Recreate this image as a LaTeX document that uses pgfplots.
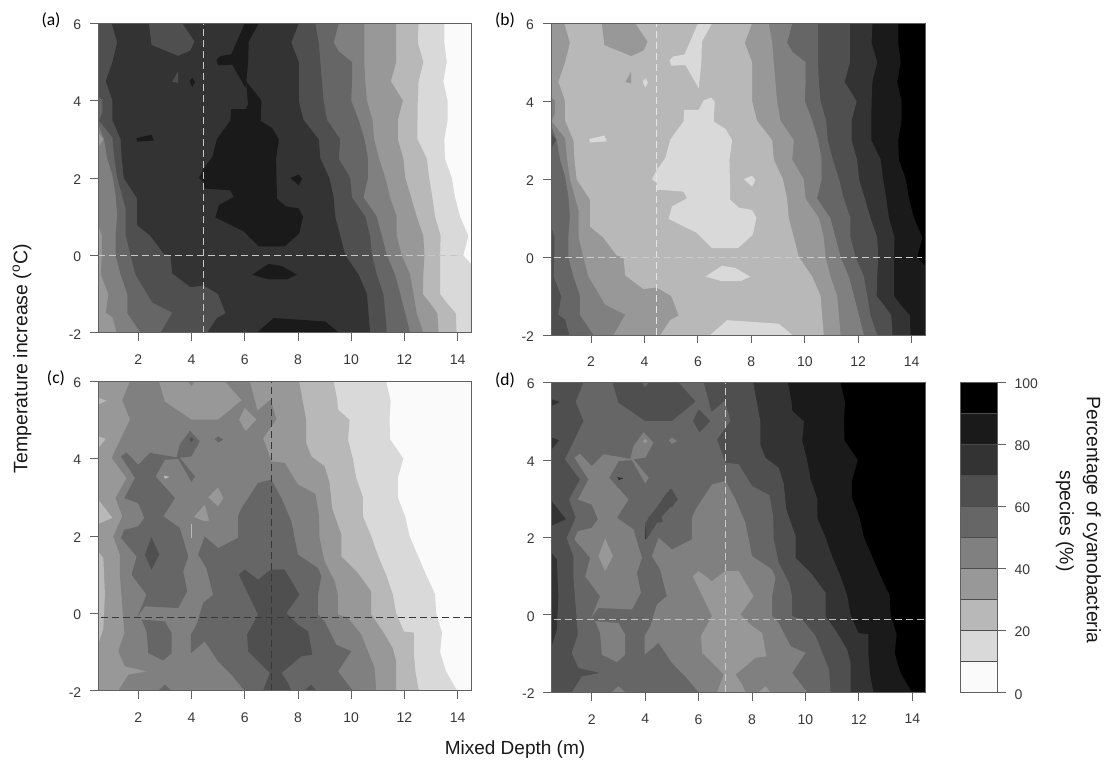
\documentclass[border=0pt]{standalone}
\usepackage{fontspec}
\setmainfont{Liberation Sans}
\newfontfamily\calfont{Carlito}
\usepackage{pgfplots}
\pgfplotsset{compat=1.18}
\definecolor{g0}{HTML}{FAFAFA}
\definecolor{g1}{HTML}{D9D9D9}
\definecolor{g2}{HTML}{B8B8B8}
\definecolor{g3}{HTML}{989898}
\definecolor{g4}{HTML}{808080}
\definecolor{g5}{HTML}{666666}
\definecolor{g6}{HTML}{4F4F4F}
\definecolor{g7}{HTML}{333333}
\definecolor{g8}{HTML}{1A1A1A}
\definecolor{g9}{HTML}{000000}
\pgfplotsset{
 fwd/.style={b0/.style={fill=g0,draw=none},b1/.style={fill=g1,draw=none},b2/.style={fill=g2,draw=none},b3/.style={fill=g3,draw=none},b4/.style={fill=g4,draw=none},b5/.style={fill=g5,draw=none},b6/.style={fill=g6,draw=none},b7/.style={fill=g7,draw=none},b8/.style={fill=g8,draw=none},b9/.style={fill=g9,draw=none}},
 rev/.style={b0/.style={fill=g9,draw=none},b1/.style={fill=g8,draw=none},b2/.style={fill=g7,draw=none},b3/.style={fill=g6,draw=none},b4/.style={fill=g5,draw=none},b5/.style={fill=g4,draw=none},b6/.style={fill=g3,draw=none},b7/.style={fill=g2,draw=none},b8/.style={fill=g1,draw=none},b9/.style={fill=g0,draw=none}},
 panel/.style={scale only axis,anchor=south west,axis on top,
  xmin=0.5,xmax=14.5,ymin=-2,ymax=6,
  xtick={2,4,...,14},ytick={-2,0,2,4,6},
  tick align=outside,tick pos=left,
  major tick length=8.5pt,
  axis line style={color=black!62,line width=0.9pt},
  every tick/.style={color=black!62,line width=0.9pt},
  /pgf/number format/assume math mode=true,
  ticklabel style={font=\fontsize{14}{15}\selectfont,text=black!78},
  xticklabel style={yshift=-10pt},
  yticklabel style={xshift=-5pt,yshift=-1.5pt}},
 dashline/.style={dash pattern=on 7pt off 4pt,line width=1.1pt},
}
\newcommand\panelAB{%
\addplot[b0] coordinates {(0.5,6)(14.6,6)(14.6,-2)(0.5,-2)} --cycle;
\addplot[b1] coordinates {(0.5,6)(13.5,6)(13.5,5.5)(13.59,5)(13.46,4.5)(13.62,4)(13.62,3.5)(13.5,3)(13.52,2.5)(13.78,2)(13.9,1.5)(14.09,1)(14.4,0.5)(14.21,0)(14.6,-0.3)(14.6,-2)(0.5,-2)} --cycle;
\addplot[b2] coordinates {(0.5,6)(12.53,6)(12.5,5.5)(12.71,5)(12.53,4.5)(12.5,4)(12.49,3.5)(12.49,3)(12.84,2.5)(12.93,2)(13.05,1.5)(13.15,1)(13.36,0.5)(13.34,0)(13.34,-0.5)(13.34,-1)(13.59,-1.23)(13.93,-1.5)(13.96,-2)(0.5,-2)} --cycle;
\addplot[b3] coordinates {(0.5,6)(11.69,6)(11.69,5.5)(11.69,5)(11.49,4.5)(11.94,4)(11.75,3.5)(11.75,3)(11.96,2.5)(12.03,2)(12.25,1.5)(12.46,1)(12.71,0.5)(12.75,0)(12.71,-0.5)(12.69,-1)(12.96,-1.23)(13.24,-1.5)(13.28,-2)(0.5,-2)} --cycle;
\addplot[b4] coordinates {(0.5,6)(10.49,6)(10.49,5.5)(10.49,5)(10.53,4.5)(10.59,4)(10.8,3.5)(10.86,3)(11.05,2.5)(11.28,2)(11.46,1.5)(11.71,1)(11.71,0.5)(11.9,0)(12.21,-0.5)(12.34,-1)(12.46,-1.5)(12.71,-2)(1.19,-2)(1.03,-1.6)(0.78,-1.48)(0.88,-1)(0.6,-0.5)(0.63,0)(0.63,0.53)(0.5,0.79)} --cycle;
\addplot[b5] coordinates {(0.5,6)(9.53,6)(9.34,5.5)(9.53,5.27)(10.03,5)(10.03,4.5)(10,4)(10.28,3.5)(10.5,3)(10.63,2.5)(10.63,2)(10.46,1.5)(10.96,1)(11.15,0.5)(11.34,0)(11.65,-0.5)(11.84,-1)(12.03,-1.5)(12.21,-2)(2.09,-2)(1.59,-1.49)(1.59,-1)(1.34,-0.5)(1.15,0)(1.15,0.53)(1.21,1.04)(1.15,1.56)(1.03,2.07)(0.84,2.5)(0.71,3.01)(0.5,3.39)} --cycle;
\addplot[b6] coordinates {(0.5,6)(8.65,6)(8.78,5.5)(8.84,5)(8.9,4.5)(8.96,4)(9.09,3.5)(9.59,3)(9.53,2.5)(9.96,2)(10.03,1.5)(10.53,1)(10.71,0.5)(10.78,0)(10.96,-0.5)(11.21,-1)(11.28,-1.5)(11.34,-2)(2.84,-2)(3.28,-1.48)(2.53,-1.22)(1.9,-0.5)(1.71,0)(1.53,0.52)(1.53,1.21)(1.21,2)(1.09,2.58)(1.03,3.05)(0.53,3.48)(0.65,3.69)(0.65,4.03)(0.5,4.1)} --cycle;
\addplot[b7] coordinates {(1,6)(8.03,6)(7.75,5.5)(8.03,5)(8.03,4.5)(8.03,4)(8.21,3.5)(8.78,3)(8.84,2.5)(9.18,2)(9.34,1.5)(9.4,1)(9.59,0.5)(9.78,0)(10.28,-0.5)(10.59,-1)(10.65,-1.5)(10.71,-2)(4.59,-2)(4.96,-1.62)(5.28,-1.5)(5,-1)(4.46,-0.78)(3.96,-0.82)(3.28,-0.47)(3.21,0)(2.96,0.04)(2.46,0.5)(1.96,0.78)(1.96,1.47)(1.46,2)(1.38,2.5)(1.34,3)(1.03,3.5)(1.03,4)(0.78,4.5)(1.03,5)(1.21,5.5)} --cycle;
\addplot[b6] coordinates {(2.4,6)(2.5,5.44)(3.5,5.16)(3.96,5.3)(4.11,5.53)(3.65,6)} --cycle;
\addplot[b6] coordinates {(3.28,4.49)(3.5,4.46)(3.5,4.76)} --cycle;
\addplot[b3] coordinates {(0.5,3.17)(0.69,3.01)(0.5,2.79)} --cycle;
\addplot[b8] coordinates {(6,6)(6.53,6)(6.15,5.53)(6.13,5.02)(6.09,4.72)(6.03,4.33)(5.53,4.93)(5,4.91)(4.94,5.06)(5.09,5.15)(5.5,5.2)} --cycle;
\addplot[b8] coordinates {(4.28,2)(4.46,2.24)(4.78,2.54)(4.96,3.01)(5.46,3.48)(5.49,3.78)(6.03,3.78)(6.21,4.02)(6.49,4.09)(6.63,3.99)(6.59,3.48)(7.03,3.29)(7.28,3)(7.18,2.5)(7.21,1.47)(7.53,1.27)(8.03,1.21)(8.19,1)(8.05,0.57)(7.5,0.23)(6.53,0.23)(5.96,0.62)(4.9,0.98)(5.03,1.3)(5.59,1.51)(5.46,1.68)(4.46,1.73)(4.46,1.9)} --cycle;
\addplot[b8] coordinates {(7.71,2)(8.03,2.09)(8.15,1.98)(8.03,1.81)} --cycle;
\addplot[b8] coordinates {(1.93,3.03)(2.5,3.12)(2.59,2.97)(1.96,2.94)} --cycle;
\addplot[b8] coordinates {(4.03,4.59)(4.13,4.48)(4.03,4.35)(3.93,4.5)} --cycle;
\addplot[b8] coordinates {(6.28,-0.5)(6.9,-0.22)(7.4,-0.28)(7.96,-0.5)(7.59,-0.62)(6.9,-0.62)} --cycle;
\addplot[b8] coordinates {(6.46,-2)(7.09,-1.62)(9.03,-1.71)(9.53,-2)} --cycle;
}
\newcommand\panelCD{%
\addplot[b0] coordinates {(0.5,6)(14.6,6)(14.6,-2)(0.5,-2)} --cycle;
\addplot[b1] coordinates {(0.5,6)(11.31,6)(11.48,5.5)(11.44,5)(11.46,4.5)(11.96,4)(11.75,3.5)(11.75,3)(12.03,2.5)(12.19,2)(12.5,1.5)(12.81,1)(13.15,0.5)(13.19,0)(13.41,-0.5)(13.34,-1)(13.56,-1.5)(13.98,-2)(0.5,-2)} --cycle;
\addplot[b2] coordinates {(0.5,6)(9.34,6)(9.48,5.5)(9.5,5.27)(9.94,5)(9.88,4.5)(10.06,4)(10.19,3.5)(10.44,3)(10.44,2.5)(10.75,2)(11,1.5)(11.31,1)(11.56,0.5)(11.69,0)(11.98,-0.47)(12.35,-0.5)(12.35,-1)(12.41,-1.5)(12.54,-2)(0.5,-2)} --cycle;
\addplot[b3] coordinates {(0.5,6)(8.04,6)(8.31,5)(8.31,4.4)(8.5,4.06)(9,3.8)(9.19,3.37)(9.28,2.72)(9.63,2.03)(9.63,1.47)(10.25,1.04)(10.75,0.57)(10.75,-0.03)(11.19,-0.47)(11.56,-0.9)(11.69,-1.24)(11.69,-2)(0.5,-2)} --cycle;
\addplot[b2] coordinates {(0.5,5.57)(0.81,5.5)(0.5,5.4)} --cycle;
\addplot[b2] coordinates {(0.5,4.58)(0.78,4.51)(0.5,4.28)} --cycle;
\addplot[b2] coordinates {(0.5,2.94)(1.03,2.47)(0.5,2.31)} --cycle;
\addplot[b2] coordinates {(0.5,1.6)(0.69,1.43)(0.75,0.48)(0.69,-0.38)(0.5,-0.81)} --cycle;
\addplot[b4] coordinates {(1.69,6)(1.4,5.51)(1.69,5.01)(1,4.02)(1.56,3.5)(1.15,2.98)(1.4,2.51)(1.06,1.99)(1.31,1.52)(1.31,1)(1.48,-0.51)(1.25,-0.98)(1.5,-1.37)(2.31,-1.5)(1.63,-1.59)(1.25,-2)(10.94,-2)(10.88,-1.41)(10.38,-0.55)(9.88,-0.12)(9.5,-0.03)(9.5,0.48)(9.38,0.83)(9,1.34)(8.81,1.95)(8.79,2.55)(8.65,3.09)(8,3.33)(7.5,3.89)(7,3.93)(6.69,4.53)(7.19,5.01)(6.98,5.53)(6.48,5.24)(6.19,6)} --cycle;
\addplot[b3] coordinates {(2.78,6)(3,5.48)(4,5.01)(5,5.01)(5.88,5.51)(5.25,6)(4.13,6)(4,5.87)(3.88,6)} --cycle;
\addplot[b3] coordinates {(5.79,5.01)(6,5.31)(6.44,5.01)(6.03,4.71)} --cycle;
\addplot[b3] coordinates {(4.63,3)(5,3.26)(5.19,2.98)(5,2.77)} --cycle;
\addplot[b3] coordinates {(4.09,2.49)(4.5,2.81)(4.66,2.4)(4.5,2.38)} --cycle;
\addplot[b2] coordinates {(3.98,2.3)(4.03,2.3)(4.03,1.95)(3.98,1.95)} --cycle;
\addplot[b2] coordinates {(2.96,3.56)(3.19,3.53)(3,3.48)} --cycle;
\addplot[b5] coordinates {(7,3.46)(7.38,2.98)(7.75,2.38)(8,1.52)(8.75,1.17)(8.88,0.96)(8.75,0.48)(8.75,-0.03)(9,-0.21)(9.44,-0.81)(10,-0.98)(9.5,-1.5)(10.06,-2)(6,-2)(5.5,-1.59)(5,-1.24)(4.5,-0.72)(3.98,-1.03)(3.98,-0.55)(4.19,-0.29)(4.44,0.27)(4.81,0.48)(4.56,1.17)(4.25,1.52)(4.5,1.99)(5,1.69)(5.75,1.95)(5.75,2.51)(5.88,2.72)(6.5,3.37)} --cycle;
\addplot[b5] coordinates {(1.35,4.06)(1.56,4.16)(2,3.84)(2.44,4.15)(3.44,4.03)(3.56,4.36)(3.94,4.72)(4.31,4.45)(4,4.06)(3.56,4.02)(4.13,3.54)(4,3.4)(3.5,4)(3,3.97)(2.65,3.54)(3.38,2.98)(2.94,2.51)(3.56,2.21)(3.88,1.47)(3.69,1.09)(3.84,0.57)(3.5,0.14)(2.25,0.18)(1.98,-0.08)(2.31,0.48)(1.75,1)(1.94,1.47)(1.35,1.95)(1.48,2.16)(2,2.25)(2.23,2.47)(2,2.85)(1.48,2.98)(1.88,3.5)} --cycle;
\addplot[b5] coordinates {(2.13,-0.16)(3,-0.21)(3.25,-0.51)(3.25,-1.03)(2.94,-1.22)(2.38,-1.03)(2.31,-0.47)} --cycle;
\addplot[b5] coordinates {(4.88,4.51)(5,4.58)(5.19,4.49)(5,4.42)} --cycle;
\addplot[b5] coordinates {(3,-1.84)(2.75,-2)(3.25,-2)} --cycle;
\addplot[b6] coordinates {(2.5,1.97)(2.79,1.52)(2.5,1.13)(2.25,1.52)} --cycle;
\addplot[b6] coordinates {(4,4.55)(3.92,4.49)(4,4.43)(4.08,4.49)} --cycle;
\addplot[b6] coordinates {(5.78,1)(6,1.13)(6.5,0.87)(6.98,1.13)(7.5,1.13)(8.06,0.48)(7.56,0.01)(8,-0.29)(8.38,-0.47)(8.54,-1.07)(8.13,-1.11)(7.38,-1.54)(7.63,-1.8)(7.75,-2)(6.69,-2)(6.94,-1.54)(6.13,-0.98)(6.09,-0.55)(6.5,-0.03)} --cycle;
\addplot[b6] coordinates {(8.5,-1.84)(8.25,-2)(8.69,-2)} --cycle;
}
\begin{document}
\begin{tikzpicture}[x=1pt,y=1pt]
\path (0,0) rectangle (1113,765);
% (a)
\begin{axis}[panel,fwd,at={(98.3pt,432.3pt)},width=372.7pt,height=309.4pt]
\panelAB
\addplot[b8] coordinates {(6.05,4.5)(6.6,4.03)(6.6,3.5)(6.14,3.8)} --cycle;
\addplot[color=black!22,dashline] coordinates {(4.44,-2)(4.44,6)};
\addplot[color=black!22,dashline] coordinates {(0.5,0)(14.15,0)};
\end{axis}
% (b)
\begin{axis}[panel,rev,at={(551pt,430pt)},width=374pt,height=311.7pt]
\panelAB
\addplot[color=black!10,dashline] coordinates {(4.46,-2)(4.46,6)};
\addplot[color=black!20,dashline] coordinates {(0.6,0)(14.4,0)};
\end{axis}
% (c)
\begin{axis}[panel,fwd,at={(98.3pt,74.3pt)},width=372.7pt,height=309.4pt]
\panelCD
\addplot[color=black!78,dashline] coordinates {(6.99,-2)(6.99,6)};
\addplot[color=black!78,dashline] coordinates {(0.6,-0.11)(14.5,-0.11)};
\end{axis}
% (d)
\begin{axis}[panel,rev,at={(551.7pt,72.7pt)},width=374pt,height=309.7pt]
\panelCD
\addplot[b3] coordinates {(4,2.37)(4.94,3.26)(5.23,2.99)(4.56,2.5)(4.03,1.94)} --cycle;
\addplot[color=black!20,dashline] coordinates {(7.0,-2)(7.0,6)};
\addplot[color=black!25,dashline] coordinates {(0.6,-0.11)(14.5,-0.11)};
\end{axis}
% colour key
\begin{axis}[scale only axis,anchor=south west,at={(960pt,72.3pt)},width=37pt,height=310.7pt,
  xmin=0,xmax=1,ymin=0,ymax=100,xtick=\empty,ytick={0,20,...,100},
  tick align=outside,ytick pos=right,yticklabel pos=right,major tick length=9pt,
  axis on top,axis line style={color=black!62,line width=0.9pt},
  every tick/.style={color=black!62,line width=0.9pt},
  /pgf/number format/assume math mode=true,
  ticklabel style={font=\fontsize{14}{15}\selectfont,text=black!78},
  yticklabel style={xshift=5pt,yshift=-1.5pt}]
\addplot[fill=g0,draw=black!70,line width=0.7pt] coordinates {(0,0)(1,0)(1,10)(0,10)} --cycle;
\addplot[fill=g1,draw=black!70,line width=0.7pt] coordinates {(0,10)(1,10)(1,20)(0,20)} --cycle;
\addplot[fill=g2,draw=black!70,line width=0.7pt] coordinates {(0,20)(1,20)(1,30)(0,30)} --cycle;
\addplot[fill=g3,draw=black!70,line width=0.7pt] coordinates {(0,30)(1,30)(1,40)(0,40)} --cycle;
\addplot[fill=g4,draw=black!70,line width=0.7pt] coordinates {(0,40)(1,40)(1,50)(0,50)} --cycle;
\addplot[fill=g5,draw=black!70,line width=0.7pt] coordinates {(0,50)(1,50)(1,60)(0,60)} --cycle;
\addplot[fill=g6,draw=black!70,line width=0.7pt] coordinates {(0,60)(1,60)(1,70)(0,70)} --cycle;
\addplot[fill=g7,draw=black!70,line width=0.7pt] coordinates {(0,70)(1,70)(1,80)(0,80)} --cycle;
\addplot[fill=g8,draw=black!70,line width=0.7pt] coordinates {(0,80)(1,80)(1,90)(0,90)} --cycle;
\addplot[fill=g9,draw=black!70,line width=0.7pt] coordinates {(0,90)(1,90)(1,100)(0,100)} --cycle;
\end{axis}
\node[font=\calfont\fontsize{17.5}{18}\selectfont] at (51,745) {(a)};
\node[font=\calfont\fontsize{17.5}{18}\selectfont] at (505,745) {(b)};
\node[font=\calfont\fontsize{17.5}{18}\selectfont] at (56,387) {(c)};
\node[font=\calfont\fontsize{17.5}{18}\selectfont] at (505,385) {(d)};
\node[font=\fontsize{19.5}{20}\selectfont,text=black!90,rotate=90] at (22,406.5) {Temperature increase (\textsuperscript{o}C)};
\node[font=\fontsize{19}{20}\selectfont,text=black!90] at (515,15) {Mixed Depth (m)};
\node[font=\fontsize{19.4}{20}\selectfont,text=black!90,rotate=-90] at (1092,245) {Percentage of cyanobacteria};
\node[font=\fontsize{19.4}{20}\selectfont,text=black!90,rotate=-90] at (1065,244) {species (\%)};
\end{tikzpicture}
\end{document}
